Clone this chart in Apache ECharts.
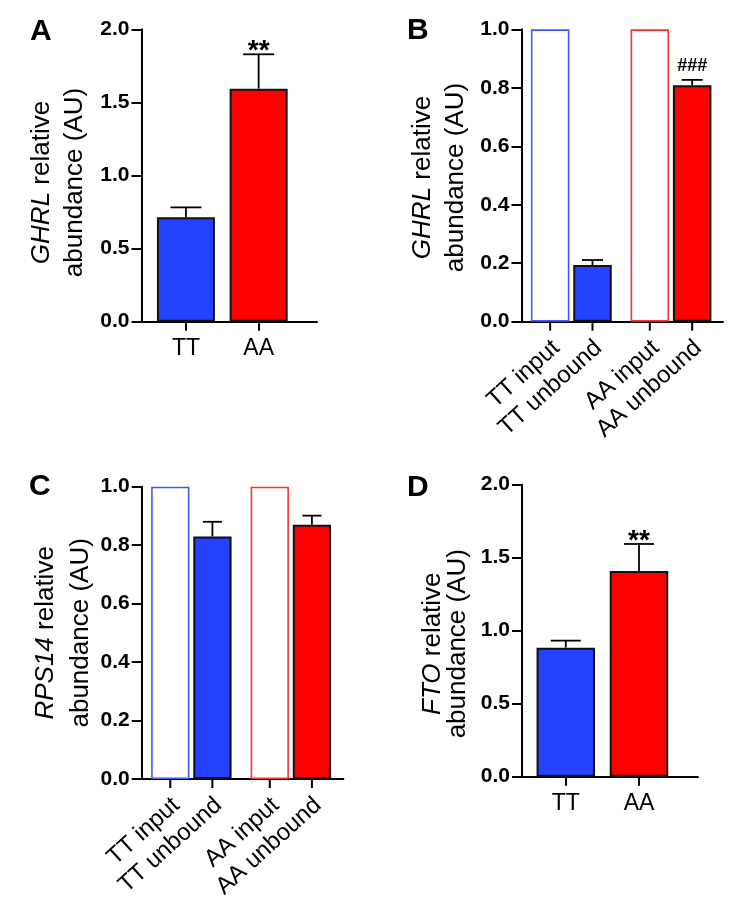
<!DOCTYPE html>
<html><head><meta charset="utf-8">
<script src="https://cdn.jsdelivr.net/npm/echarts@6/dist/echarts.min.js"></script>
<style>html,body{margin:0;padding:0;background:#fff}#c{width:746px;height:907px}</style>
</head><body><div id="c"></div><script>
// ---------- data ----------
const catsA = ['TT', 'AA'];
const meanA = [0.714, 1.594];
const errA = [0.068, 0.235];
const sigA = ['', '**'];

const groupsB = ['TT', 'AA'];
const subsB = ['input', 'unbound'];
const inputB = [1.0, 1.0];
const unboundB = [0.194, 0.809];
const errB = [0.017, 0.018];
const sigB = ['', '###'];

const groupsC = ['TT', 'AA'];
const subsC = ['input', 'unbound'];
const inputC = [1.0, 1.0];
const unboundC = [0.830, 0.870];
const errC = [0.050, 0.031];
const sigC = ['', ''];

const catsD = ['TT', 'AA'];
const meanD = [0.884, 1.409];
const errD = [0.048, 0.185];
const sigD = ['', '**'];

const genes = ['GHRL', 'GHRL', 'RPS14', 'FTO'];
const letters = ['A', 'B', 'C', 'D'];

// ---------- styles / layout ----------
const FONT = '"Liberation Sans", Arial, Helvetica, sans-serif';
const BLUE = '#2442FF', RED = '#FF0000', BLUE_L = '#3D5AFF', RED_L = '#FF3030';
const COLORS = [BLUE, RED], LCOLORS = [BLUE_L, RED_L];

const panels = [
  {type: 'single', cats: catsA, mean: meanA, err: errA, sig: sigA, max: 2, interval: 0.5,
   ag: {left: 141.5, top: 29.3, width: 175.5, height: 292.4}, bg: {left: 149.6, width: 145.4},
   bw: 58, capW: 31, sigFont: 28, sigDy: -3, gap: 50, lh: 33, pad: 14, letter: [30, 17]},
  {type: 'group', groups: groupsB, subs: subsB, input: inputB, mean: unboundB, err: errB, sig: sigB, max: 1, interval: 0.2,
   ag: {left: 521.5, top: 29.3, width: 201.5, height: 292.4}, bg: {left: 521.5, width: 199.3},
   bw: 38.5, gapFrac: 0.1, capW: 21, sigFont: 18, sigDy: -14, gap: 49.5, lh: 33, pad: 4, letter: [407, 16]},
  {type: 'group', groups: groupsC, subs: subsC, input: inputC, mean: unboundC, err: errC, sig: sigC, max: 1, interval: 0.2,
   ag: {left: 141.7, top: 486.7, width: 201.6, height: 292.3}, bg: {left: 141.6, width: 199},
   bw: 38.3, gapFrac: 0.1, capW: 19, sigFont: 18, sigDy: -14, gap: 43, lh: 35, pad: 0, letter: [29, 472]},
  {type: 'single', cats: catsD, mean: meanD, err: errD, sig: sigD, max: 2, interval: 0.5,
   ag: {left: 522, top: 484.7, width: 176, height: 292}, bg: {left: 529.2, width: 146.4},
   bw: 58.5, capW: 30, sigFont: 28, sigDy: -3, gap: 52, lh: 25, pad: 26, letter: [407, 473]}
];

function errRender(offset, capW, sig, sigFont, sigDy) {
  return function (params, api) {
    const ci = api.value(0), m = api.value(1), e = api.value(2);
    const p0 = api.coord([ci, m]);
    const p1 = api.coord([ci, m + e]);
    const x = p0[0] + offset;
    const children = [
      {type: 'line', shape: {x1: x, y1: p0[1], x2: x, y2: p1[1]}, style: {stroke: '#000', lineWidth: 1.8}},
      {type: 'line', shape: {x1: x - capW / 2, y1: p1[1], x2: x + capW / 2, y2: p1[1]}, style: {stroke: '#000', lineWidth: 1.8}}
    ];
    const s = sig[params.dataIndex];
    if (s) {
      children.push({type: 'text', x: x, y: p1[1] + sigDy,
        style: {text: s, font: 'bold ' + sigFont + 'px ' + FONT, fill: '#000', textAlign: 'center', textVerticalAlign: 'middle'}});
    }
    return {type: 'group', children: children};
  };
}

const grid = [], xAxis = [], yAxis = [], series = [], graphic = [];

panels.forEach((P, i) => {
  const a = 2 * i, b = 2 * i + 1;
  grid.push(Object.assign({}, P.ag));
  grid.push({left: P.bg.left, width: P.bg.width, top: P.ag.top, height: P.ag.height});

  xAxis.push({gridIndex: a, type: 'category', data: [''],
    axisLine: {show: true, lineStyle: {color: '#000', width: 2}},
    axisTick: {show: false}, axisLabel: {show: false}, splitLine: {show: false}});
  yAxis.push({gridIndex: a, type: 'value', min: 0, max: P.max, interval: P.interval,
    axisLine: {show: true, lineStyle: {color: '#000', width: 2}},
    axisTick: {show: true, length: 10, lineStyle: {color: '#000', width: 2}},
    axisLabel: {fontSize: 21, fontWeight: 'bold', fontFamily: FONT, color: '#000', margin: 12,
      formatter: v => v.toFixed(1)},
    splitLine: {show: false},
    name: '{i|' + genes[i] + '} relative\nabundance (AU)',
    nameLocation: 'middle', nameGap: P.gap, nameRotate: 90, nameMoveOverlap: false,
    nameTextStyle: {fontSize: 26, fontFamily: FONT, color: '#000', lineHeight: P.lh, align: 'center',
      padding: [0, P.pad, 0, 0],
      rich: {i: {fontStyle: 'italic', fontSize: 26, fontFamily: FONT, color: '#000', lineHeight: P.lh}}}});

  yAxis.push({gridIndex: b, type: 'value', min: 0, max: P.max, interval: P.interval, show: false});

  if (P.type === 'single') {
    xAxis.push({gridIndex: b, type: 'category', data: P.cats,
      axisLine: {show: false},
      axisTick: {show: true, alignWithLabel: true, length: 9, lineStyle: {color: '#000', width: 2}},
      axisLabel: {fontSize: 23, fontFamily: FONT, color: '#000', margin: 15},
      splitLine: {show: false}});
    series.push({type: 'bar', xAxisIndex: b, yAxisIndex: b, barWidth: P.bw, z: 2,
      data: P.mean.map((v, k) => ({value: v, itemStyle: {color: COLORS[k]}})),
      itemStyle: {borderColor: '#111', borderWidth: 2}});
    series.push({type: 'custom', xAxisIndex: b, yAxisIndex: b, z: 3, encode: {x: 0, y: 1},
      data: P.mean.map((v, k) => [k, v, P.err[k]]),
      renderItem: errRender(0, P.capW, P.sig, P.sigFont, P.sigDy)});
  } else {
    xAxis.push({gridIndex: b, type: 'category', data: P.groups, show: false});
    const gapPct = (P.gapFrac * 100) + '%';
    const off = P.bw * (1 + P.gapFrac) / 2;
    series.push({type: 'bar', name: P.subs[0], xAxisIndex: b, yAxisIndex: b, barWidth: P.bw, barGap: gapPct, z: 2,
      data: P.input.map((v, k) => ({value: v, itemStyle: {color: '#fff', borderColor: LCOLORS[k], borderWidth: 1.6}}))});
    series.push({type: 'bar', name: P.subs[1], xAxisIndex: b, yAxisIndex: b, barWidth: P.bw, barGap: gapPct, z: 2,
      data: P.mean.map((v, k) => ({value: v, itemStyle: {color: COLORS[k], borderColor: '#111', borderWidth: 2}}))});
    series.push({type: 'custom', xAxisIndex: b, yAxisIndex: b, z: 3, encode: {x: 0, y: 1},
      data: P.mean.map((v, k) => [k, v, P.err[k]]),
      renderItem: errRender(off, P.capW, P.sig, P.sigFont, P.sigDy)});
    // ticks and rotated category labels under each bar
    const tickData = [];
    P.groups.forEach((g, gi) => P.subs.forEach((s, si) => tickData.push([gi, 0, si])));
    series.push({type: 'custom', xAxisIndex: b, yAxisIndex: b, z: 3, encode: {x: 0, y: 1},
      data: tickData,
      renderItem: function (params, api) {
        const gi = api.value(0), si = api.value(2);
        const p = api.coord([gi, 0]);
        const x = p[0] + (si === 0 ? -off : off);
        const y = p[1];
        return {type: 'group', children: [
          {type: 'line', shape: {x1: x, y1: y, x2: x, y2: y + 9}, style: {stroke: '#000', lineWidth: 2}},
          {type: 'text', x: x + 6, y: y + 23, rotation: 42 * Math.PI / 180,
            style: {text: P.groups[gi] + ' ' + P.subs[si], font: '24px ' + FONT, fill: '#000',
              textAlign: 'right', textVerticalAlign: 'middle'}}
        ]};
      }});
  }

  graphic.push({type: 'text', left: P.letter[0], top: P.letter[1],
    style: {text: letters[i], font: 'bold 30px ' + FONT, fill: '#000'}});
});

const chart = echarts.init(document.getElementById('c'), null, {renderer: 'canvas'});
chart.setOption({animation: false, backgroundColor: '#fff', grid, xAxis, yAxis, series, graphic});
</script></body></html>
